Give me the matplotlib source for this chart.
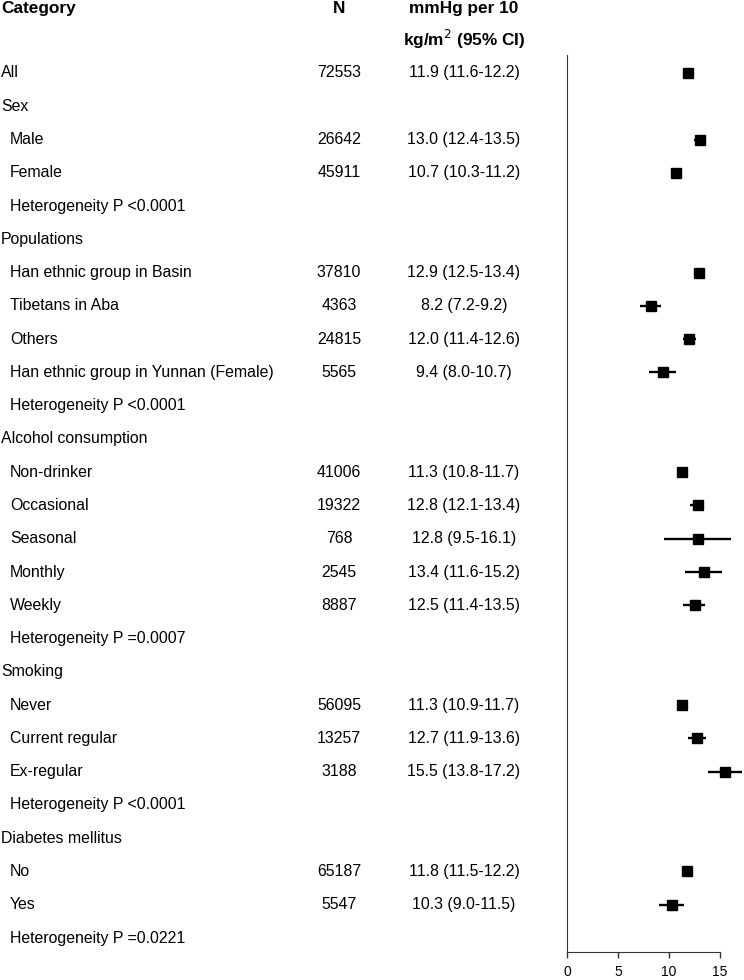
import numpy as np
import matplotlib
matplotlib.use("Agg")
import matplotlib.pyplot as plt
from matplotlib.transforms import blended_transform_factory

plt.rcParams['font.family'] = ['Liberation Sans', 'DejaVu Sans']

categories = [
    "All", "Sex", "Male", "Female", "Heterogeneity P <0.0001",
    "Populations", "Han ethnic group in Basin", "Tibetans in Aba", "Others",
    "Han ethnic group in Yunnan (Female)", "Heterogeneity P <0.0001",
    "Alcohol consumption", "Non-drinker", "Occasional", "Seasonal", "Monthly",
    "Weekly", "Heterogeneity P =0.0007",
    "Smoking", "Never", "Current regular", "Ex-regular", "Heterogeneity P <0.0001",
    "Diabetes mellitus", "No", "Yes", "Heterogeneity P =0.0221",
]
indent = [0, 0, 1, 1, 1,
          0, 1, 1, 1, 1, 1,
          0, 1, 1, 1, 1, 1, 1,
          0, 1, 1, 1, 1,
          0, 1, 1, 1]
n_values = ["72553", "", "26642", "45911", "",
            "", "37810", "4363", "24815", "5565", "",
            "", "41006", "19322", "768", "2545", "8887", "",
            "", "56095", "13257", "3188", "",
            "", "65187", "5547", ""]
nan = np.nan
estimate = [11.9, nan, 13.0, 10.7, nan,
            nan, 12.9, 8.2, 12.0, 9.4, nan,
            nan, 11.3, 12.8, 12.8, 13.4, 12.5, nan,
            nan, 11.3, 12.7, 15.5, nan,
            nan, 11.8, 10.3, nan]
lower = [11.6, nan, 12.4, 10.3, nan,
         nan, 12.5, 7.2, 11.4, 8.0, nan,
         nan, 10.8, 12.1, 9.5, 11.6, 11.4, nan,
         nan, 10.9, 11.9, 13.8, nan,
         nan, 11.5, 9.0, nan]
upper = [12.2, nan, 13.5, 11.2, nan,
         nan, 13.4, 9.2, 12.6, 10.7, nan,
         nan, 11.7, 13.4, 16.1, 15.2, 13.5, nan,
         nan, 11.7, 13.6, 17.2, nan,
         nan, 12.2, 11.5, nan]
x_ticks = [0, 5, 10, 15]

W, H = 744, 980
fig = plt.figure(figsize=(W / 100, H / 100), dpi=100)
ax = fig.add_axes([567 / W, 1 - 952 / H, (W - 567) / W, (952 - 55) / H])

nrows = len(categories)
ys = np.arange(nrows)
est = np.array(estimate)
lo = np.array(lower)
hi = np.array(upper)
m = ~np.isnan(est)
ax.hlines(ys[m], lo[m], hi[m], color='black', lw=1.7)
ax.plot(est[m], ys[m], 's', color='black', ms=6.8)

ax.set_xlim(0, 17.35)
ax.set_ylim(26.42, -0.54)
for s in ['top', 'right']:
    ax.spines[s].set_visible(False)
ax.spines['bottom'].set_bounds(0, 15)
ax.spines['left'].set_color('#333333')
ax.spines['bottom'].set_color('#333333')
ax.set_xticks(x_ticks)
ax.set_xticklabels([str(t) for t in x_ticks])
ax.set_yticks([])
ax.tick_params(axis='x', direction='out', length=4.5, width=1, labelsize=10, pad=5, color='#333333')

tr = blended_transform_factory(fig.transFigure, ax.transData)
fs = 11.4
hfs = 12.4
for i, (c, ind, nv) in enumerate(zip(categories, indent, n_values)):
    ax.text((1 + 9 * ind) / W, i, c, transform=tr, ha='left', va='center', fontsize=fs, clip_on=False)
    if nv:
        ax.text(339 / W, i, nv, transform=tr, ha='center', va='center', fontsize=fs, clip_on=False)
    if not np.isnan(est[i]):
        ax.text(464 / W, i, f"{est[i]:.1f} ({lo[i]:.1f}-{hi[i]:.1f})", transform=tr,
                ha='center', va='center', fontsize=fs, clip_on=False)

ax.text(1 / W, -1.95, "Category", transform=tr, ha='left', va='center', fontsize=hfs, fontweight='bold', clip_on=False)
ax.text(339 / W, -1.95, "N", transform=tr, ha='center', va='center', fontsize=hfs, fontweight='bold', clip_on=False)
ax.text(464 / W, -1.95, "mmHg per 10", transform=tr, ha='center', va='center', fontsize=hfs, fontweight='bold', clip_on=False)
ax.text(464 / W, -1, "kg/m$^2$ (95% CI)", transform=tr, ha='center', va='center', fontsize=hfs, fontweight='bold', clip_on=False)

fig.savefig("out.png", dpi=100)
